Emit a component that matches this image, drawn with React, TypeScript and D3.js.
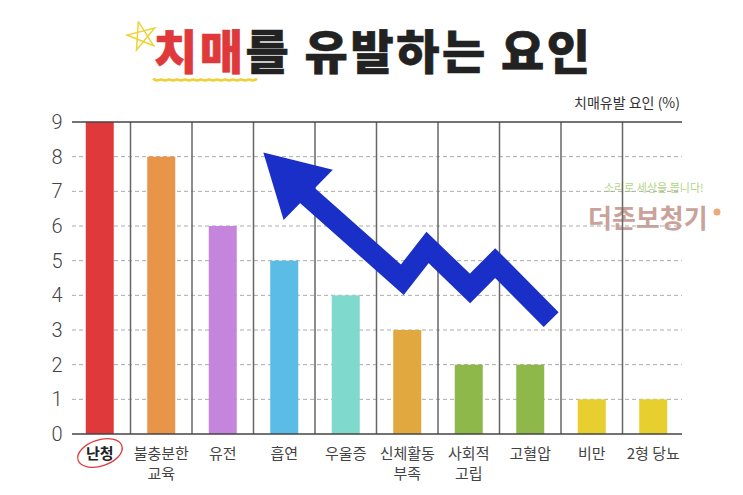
import React from 'react';
import * as d3 from 'd3';

const categories = ['난청', '불충분한\n교육', '유전', '흡연', '우울증', '신체활동\n부족', '사회적\n고립', '고혈압', '비만', '2형 당뇨'];
const values = [9, 8, 6, 5, 4, 3, 2, 2, 1, 1];
const barColors = ['#e0393b', '#e8954a', '#c585dc', '#5bbde6', '#7fd9cc', '#e0a83e', '#8fb84a', '#8fb84a', '#e6cf2e', '#e6cf2e'];
const yTicks = [0, 1, 2, 3, 4, 5, 6, 7, 8, 9];

// arrow drawn in (category index, value) units
const arrowShaft: [number, number][] = [
  [3.3, 7.0], [4.92, 4.45], [5.33, 5.38], [6.02, 4.2], [6.43, 4.93], [7.34, 3.3],
];
const arrowHead: [number, number][] = [[2.66, 8.12], [3.79, 7.62], [2.99, 6.17]];

const W = 743;
const H = 495;
const plot = { l: 72, r: 682, t: 122, b: 434 };
const font = "'Noto Sans CJK KR', 'Noto Sans', sans-serif";

export default function App() {
  const x = d3.scaleBand<string>().domain(categories).range([69, 684]).padding(0);
  const y = d3.scaleLinear().domain([0, 9]).range([plot.b, plot.t]);
  const xi = d3
    .scaleLinear()
    .domain([0, categories.length - 1])
    .range([x(categories[0])! + x.bandwidth() / 2, x(categories[categories.length - 1])! + x.bandwidth() / 2]);
  const barW = 28;

  const line = d3.line<[number, number]>().x((d) => xi(d[0])).y((d) => y(d[1]));

  // decorative star + wavy underline of the title
  const star = d3.range(6).map((i) => {
    const a = -Math.PI / 2 - 0.25 + (i * 4 * Math.PI) / 5;
    return [142 + 15 * Math.cos(a), 36 + 15 * Math.sin(a)] as [number, number];
  });
  const wave = d3.range(0, 27).map((i) => [153 + i * 4, 80 + (i % 2 === 0 ? -1.3 : 1.3)] as [number, number]);

  return (
    <svg width={W} height={H} style={{ position: 'absolute', left: 0, top: 0, background: '#fff' }}>
      {/* title */}
      <path d={d3.line()(star) as string} fill="none" stroke="#efd23a" strokeWidth={1.5} />
      <path d={d3.line().curve(d3.curveBasis)(wave) as string} fill="none" stroke="#f0cf33" strokeWidth={2.5} />
      <text
        x={154}
        y={69}
        fontFamily={font}
        fontWeight={900}
        fontSize={47}
        textLength={436}
        lengthAdjust="spacing"
        fill="#222"
        stroke="#222"
        strokeWidth={0.6}
      >
        <tspan fill="#e0393b" stroke="#e0393b">치매</tspan>를 유발하는 요인
      </text>

      <text x={plot.r - 2} y={108} textAnchor="end" fontFamily={font} fontSize={14} fill="#333">
        치매유발 요인 (%)
      </text>

      {/* watermark */}
      <text x={604} y={192} fontFamily={font} fontSize={11} fill="#b3d584">
        소리로 세상을 봅니다!
      </text>
      <text x={588} y={228} fontFamily={font} fontWeight={700} fontSize={26} fill="#c9a29a">
        더존보청기
      </text>
      <circle cx={717} cy={212} r={3.5} fill="#f0a878" />

      {/* grid */}
      {yTicks.filter((t) => t > 0 && t < 9).map((t) => (
        <line key={t} x1={plot.l} x2={plot.r} y1={y(t)} y2={y(t)} stroke="#aaa" strokeWidth={1} strokeDasharray="4,3" />
      ))}
      {categories.slice(1).map((c) => (
        <line key={c} x1={x(c)} x2={x(c)} y1={y(9)} y2={y(0)} stroke="#666" strokeWidth={1.5} />
      ))}

      {/* bars */}
      {categories.map((c, i) => (
        <rect
          key={c}
          x={x(c)! + x.bandwidth() / 2 - barW / 2}
          y={y(values[i])}
          width={barW}
          height={y(0) - y(values[i])}
          fill={barColors[i]}
        />
      ))}

      <line x1={plot.l} x2={plot.r} y1={y(9)} y2={y(9)} stroke="#444" strokeWidth={1.5} />
      <line x1={plot.l} x2={plot.r} y1={y(0)} y2={y(0)} stroke="#444" strokeWidth={1.5} />

      {/* y labels */}
      {yTicks.map((t) => (
        <text key={t} x={57} y={y(t) + 7} textAnchor="middle" fontFamily="Roboto, sans-serif" fontWeight={300} fontSize={20} fill="#444">
          {t}
        </text>
      ))}

      {/* x labels */}
      {categories.map((c, i) => (
        <text
          key={c}
          x={x(c)! + x.bandwidth() / 2}
          y={459}
          textAnchor="middle"
          fontFamily={font}
          fontSize={15}
          fontWeight={i === 0 ? 700 : 400}
          fill={i === 0 ? '#222' : '#444'}
        >
          {c.split('\n').map((s, k) => (
            <tspan key={k} x={x(c)! + x.bandwidth() / 2} dy={k === 0 ? 0 : 20}>
              {s}
            </tspan>
          ))}
        </text>
      ))}
      <ellipse cx={100} cy={453} rx={23} ry={13} fill="none" stroke="#e0393b" strokeWidth={1.3} transform="rotate(-18 100 453)" />

      {/* arrow */}
      <path d={line(arrowShaft) as string} fill="none" stroke="#1a2ec8" strokeWidth={21} strokeLinejoin="miter" />
      <path d={(line(arrowHead) as string) + 'Z'} fill="#1a2ec8" />
    </svg>
  );
}
